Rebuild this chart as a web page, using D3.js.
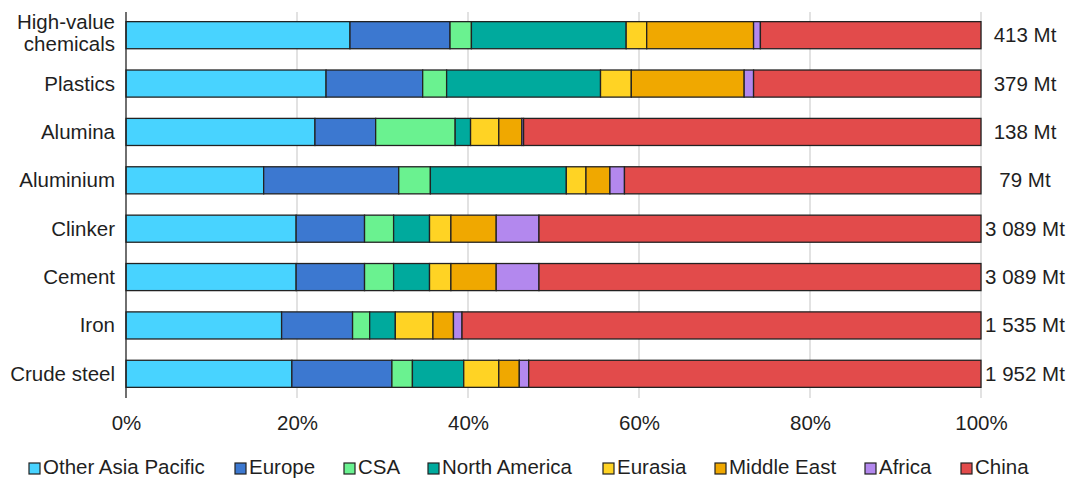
<!DOCTYPE html>
<html>
<head>
<meta charset="utf-8">
<script src="https://cdn.jsdelivr.net/npm/d3@7"></script>
<style>
  html, body { margin: 0; padding: 0; background: #fff; }
  svg { display: block; font-family: "Liberation Sans", Arial, sans-serif; }
</style>
</head>
<body>
<svg id="chart" width="1068" height="479"></svg>
<script>
// ---- data ----
const categories = ["High-value chemicals", "Plastics", "Alumina", "Aluminium", "Clinker", "Cement", "Iron", "Crude steel"];
const totals = ["413 Mt", "379 Mt", "138 Mt", "79 Mt", "3 089 Mt", "3 089 Mt", "1 535 Mt", "1 952 Mt"];
const seriesNames = ["Other Asia Pacific", "Europe", "CSA", "North America", "Eurasia", "Middle East", "Africa", "China"];
const otherAsiaPacific = [26.2, 23.4, 22.1, 16.1, 19.9, 19.9, 18.2, 19.4];
const europe           = [11.7, 11.3,  7.1, 15.8,  8.0,  8.0,  8.3, 11.7];
const csa              = [ 2.5,  2.8,  9.3,  3.7,  3.4,  3.4,  2.0,  2.4];
const northAmerica     = [18.1, 18.0,  1.8, 15.9,  4.2,  4.2,  3.0,  6.0];
const eurasia          = [ 2.4,  3.6,  3.3,  2.3,  2.5,  2.5,  4.4,  4.1];
const middleEast       = [12.5, 13.2,  2.7,  2.8,  5.3,  5.3,  2.4,  2.4];
const africa           = [ 0.8,  1.1,  0.2,  1.7,  5.0,  5.0,  1.0,  1.1];
const china            = [25.8, 26.6, 53.5, 41.7, 51.7, 51.7, 60.7, 52.9];
const tickValues = [0, 20, 40, 60, 80, 100];
const colors = ["#48D3FF", "#3C78D0", "#6AF290", "#00AA9D", "#FFD324", "#F0A800", "#B388EE", "#E24B4B"];

const seriesValues = [otherAsiaPacific, europe, csa, northAmerica, eurasia, middleEast, africa, china];
const rows = categories.map((c, i) => {
  const r = { category: c };
  seriesNames.forEach((s, j) => r[s] = seriesValues[j][i]);
  return r;
});

const svg = d3.select("#chart");
const textColor = "#1f1f1f";
const fontSize = 20.5;

const x = d3.scaleLinear().domain([0, 100]).range([126, 981]);
const y = d3.scaleBand().domain(categories).range([11, 398]).paddingInner(0.44).paddingOuter(0.22);

// gridlines
svg.append("g").selectAll("line").data(tickValues.filter(d => d > 0)).join("line")
  .attr("x1", d => x(d)).attr("x2", d => x(d))
  .attr("y1", 12).attr("y2", 398)
  .attr("stroke", "#d9d9d9").attr("stroke-width", 1.5);

// stacked bars
const stack = d3.stack().keys(seriesNames);
const stacked = stack(rows);
svg.append("g").selectAll("g").data(stacked).join("g")
  .attr("fill", (d, i) => colors[i])
  .selectAll("rect").data(d => d).join("rect")
  .attr("x", d => x(d[0]))
  .attr("width", d => Math.max(0, x(d[1]) - x(d[0])))
  .attr("y", d => y(d.data.category))
  .attr("height", y.bandwidth())
  .attr("stroke", "#222").attr("stroke-width", 1.3);

// vertical axis line
svg.append("line")
  .attr("x1", x(0)).attr("x2", x(0)).attr("y1", 12).attr("y2", 398)
  .attr("stroke", "#222").attr("stroke-width", 1.3);

// x tick labels
const xAxis = d3.axisBottom(x).tickValues(tickValues).tickFormat(d => d + "%").tickSize(0).tickPadding(0);
const gx = svg.append("g").attr("transform", "translate(0,415)").call(xAxis);
gx.select(".domain").remove();
gx.selectAll("text").attr("font-size", fontSize).attr("fill", textColor)
  .attr("font-family", "Liberation Sans, Arial, sans-serif").attr("dy", "0.71em");

// category labels
const catG = svg.append("g");
categories.forEach(c => {
  const yc = y(c) + y.bandwidth() / 2;
  if (c === "High-value chemicals") {
    const t = catG.append("text").attr("text-anchor", "end").attr("font-size", fontSize).attr("fill", textColor);
    t.append("tspan").attr("x", 115).attr("y", yc - 6).text("High-value");
    t.append("tspan").attr("x", 115).attr("y", yc + 16).text("chemicals");
  } else {
    catG.append("text").attr("x", 115).attr("y", yc + 7).attr("text-anchor", "end")
      .attr("font-size", fontSize).attr("fill", textColor).text(c);
  }
});

// totals
svg.append("g").selectAll("text").data(categories).join("text")
  .attr("x", 1025).attr("y", d => y(d) + y.bandwidth() / 2 + 7)
  .attr("text-anchor", "middle").attr("font-size", fontSize).attr("fill", textColor)
  .text((d, i) => totals[i]);

// legend
const legendX = [29, 235, 344, 428, 603, 715, 865, 961];
const legend = svg.append("g").selectAll("g").data(seriesNames).join("g")
  .attr("transform", (d, i) => `translate(${legendX[i]},463)`);
legend.append("rect").attr("width", 11).attr("height", 11)
  .attr("fill", (d, i) => colors[i]).attr("stroke", "#222").attr("stroke-width", 1.2);
legend.append("text").attr("x", 14).attr("y", 11)
  .attr("font-size", fontSize).attr("fill", textColor).text(d => d);
</script>
</body>
</html>
